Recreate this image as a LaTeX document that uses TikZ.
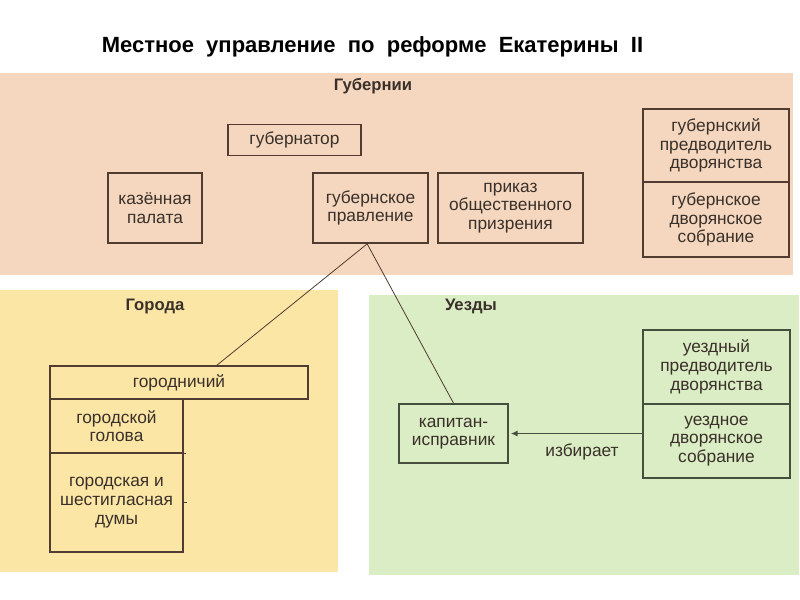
\documentclass[tikz,border=0pt]{standalone}
\usepackage{fontspec}
\setmainfont{Liberation Sans}
\usepackage{xcolor}
\usepackage{tikz}
\usetikzlibrary{arrows.meta}

\definecolor{peachbg}{RGB}{244,215,190}
\definecolor{yellowbg}{RGB}{252,230,166}
\definecolor{greenbg}{RGB}{219,237,196}
\definecolor{ink}{RGB}{80,60,48}
\definecolor{inkgreen}{RGB}{70,78,62}
\definecolor{txt}{RGB}{58,48,42}

\tikzset{
  unitbox/.style={draw=ink, line width=1.3pt, align=center, inner sep=2pt,
    text=txt, font=\fontsize{13}{14}\selectfont},
  arealabel/.style={font=\fontsize{12.5}{14}\selectfont\bfseries, text=txt},
  link/.style={draw=ink, line width=0.6pt}
}

\begin{document}
\begin{tikzpicture}[x=0.75pt,y=0.75pt,yscale=-1,xscale=1]
\useasboundingbox (0,0) rectangle (800,600);
%Background areas
\fill [peachbg] (0,73) rectangle (793,275);
\fill [yellowbg] (0,290) rectangle (338,572);
\fill [greenbg] (369,295) rectangle (799,575);
% Title
\node (title) at (372.5,47) {\fontsize{16.5}{19}\selectfont\bfseries Местное\ \ управление\ \ по\ \ реформе\ \ Екатерины\ \ II};
% Area labels
\node [arealabel] (lgub) at (373,86) {Губернии};
\node [arealabel] (lgor) at (155,306) {Города};
\node [arealabel] (luez) at (471,306) {Уезды};
% Губернии
\node [unitbox, minimum width=99.75pt, minimum height=23.25pt] (gub) at (294.5,140) {губернатор};
\node [unitbox, minimum width=70.5pt, minimum height=52.5pt] (kaz) at (155,208) {казённая\\палата};
\node [unitbox, minimum width=86.25pt, minimum height=52.5pt] (prav) at (370.5,208) {губернское\\правление};
\node [unitbox, minimum width=108.75pt, minimum height=52.5pt] (prikaz) at (510.5,208) {приказ\\общественного\\призрения};
\node [unitbox, minimum width=109.5pt, minimum height=54.75pt] (gpred) at (716,145.5) {губернский\\предводитель\\дворянства};
\node [unitbox, minimum width=109.5pt, minimum height=56.25pt] (gsobr) at (716,219.5) {губернское\\дворянское\\собрание};
% Города
\node [unitbox, minimum width=193.5pt, minimum height=24.75pt] (gorodn) at (179,382.5) {городничий};
\node [unitbox, minimum width=99.75pt, minimum height=40.5pt] (golova) at (116.5,426) {городской\\голова};
\node [unitbox, minimum width=99.75pt, minimum height=74.25pt] (duma) at (116.5,502.5) {городская и\\шестигласная\\думы};
% Уезды
\node [unitbox, draw=inkgreen, minimum width=81.75pt, minimum height=44.25pt] (kapitan) at (453.5,433.5) {капитан-\\исправник};
\node [unitbox, draw=inkgreen, minimum width=110.25pt, minimum height=55.5pt] (upred) at (716.5,367) {уездный\\предводитель\\дворянства};
\node [unitbox, draw=inkgreen, minimum width=110.25pt, minimum height=55.5pt] (usobr) at (716.5,441) {уездное\\дворянское\\собрание};
% Connectors
\draw [link] ([xshift=-2.5pt]prav.south) -- ([xshift=28.5pt]gorodn.north);
\draw [link] ([xshift=-2.5pt]prav.south) -- (kapitan.north);
\draw [link] (golova.south east) -- ([xshift=1.5pt]golova.south east);
\draw [link] (duma.east) -- ([xshift=2.5pt]duma.east);
\draw [draw=inkgreen, line width=0.9pt, -{Latex[length=5pt,width=4.5pt]}, shorten >=1.5pt] (usobr.west |- kapitan.east) -- (kapitan.east);
\node [text=txt, font=\fontsize{13}{14}\selectfont] (elect) at (582,452) {избирает};
\end{tikzpicture}
\end{document}
